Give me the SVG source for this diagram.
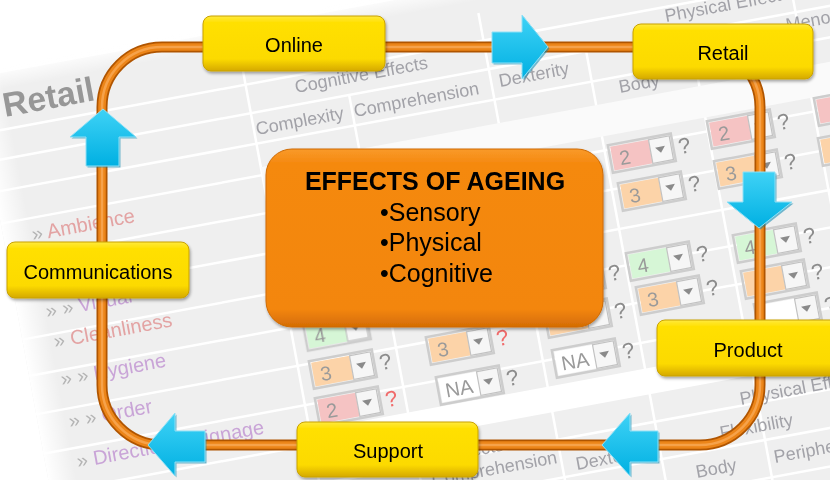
<svg xmlns="http://www.w3.org/2000/svg" width="830" height="480" viewBox="0 0 830 480">
  <defs>
    <style>
      .node rect { fill: url(#yel); stroke: #C9A200; stroke-width: 1; }
      .node text { font-family: "Liberation Sans", Arial, sans-serif; font-size: 20px; fill: #000; text-anchor: middle; }
      .hd { font-family: "Liberation Sans", Arial, sans-serif; font-size: 18px; fill: #a2a2a8; }
      .lb { font-family: "Liberation Sans", Arial, sans-serif; font-size: 20px; }
      .rd { fill: #E3A3A3; }
      .pu { fill: #C9A4D7; }
      .gt { fill: #b4b4b4; }
      .num { font-family: "Liberation Sans", Arial, sans-serif; font-size: 20px; fill: #9a9a9a; }
      .q { font-family: "Liberation Sans", Arial, sans-serif; font-size: 22px; fill: #8c8c8c; }
      .qr { fill: #F06B6B; }
      .pk { fill: #F5C3C3; }
      .or { fill: #FCD3A8; }
      .gr { fill: #D6F6D6; }
      .wh { fill: #ffffff; }
      .grid { stroke: #ffffff; stroke-width: 2.5; fill: none; }
      .arrow { fill: url(#cyan); stroke: #8FE0F6; stroke-width: 1; }
      .arrow-sh { fill: #0A86AE; opacity: 0.55; }
    </style>
    <linearGradient id="yel" x1="0" y1="0" x2="0" y2="1">
      <stop offset="0" stop-color="#FFEA40"/>
      <stop offset="0.12" stop-color="#FFE000"/>
      <stop offset="0.78" stop-color="#FCDA00"/>
      <stop offset="1" stop-color="#D5A900"/>
    </linearGradient>
    <linearGradient id="org" x1="0" y1="0" x2="0" y2="1">
      <stop offset="0" stop-color="#F99A2A"/>
      <stop offset="0.08" stop-color="#F5890F"/>
      <stop offset="0.9" stop-color="#F3860C"/>
      <stop offset="1" stop-color="#D46C05"/>
    </linearGradient>
    <linearGradient id="cyan" x1="0" y1="0" x2="0" y2="1">
      <stop offset="0" stop-color="#3FD2F6"/>
      <stop offset="1" stop-color="#00B0E2"/>
    </linearGradient>
    <linearGradient id="fadeL" x1="0" y1="0" x2="1" y2="0">
      <stop offset="0" stop-color="#fff" stop-opacity="1"/>
      <stop offset="1" stop-color="#fff" stop-opacity="0"/>
    </linearGradient>
    <linearGradient id="fadeT" x1="0" y1="0" x2="0" y2="1">
      <stop offset="0" stop-color="#fff" stop-opacity="1"/>
      <stop offset="1" stop-color="#fff" stop-opacity="0"/>
    </linearGradient>
    <filter id="sh" x="-10%" y="-15%" width="125%" height="145%">
      <feDropShadow dx="1" dy="2" stdDeviation="1.4" flood-color="#000" flood-opacity="0.35"/>
    </filter>
    <filter id="soft" x="-5%" y="-5%" width="110%" height="110%">
      <feGaussianBlur stdDeviation="0.45"/>
    </filter>
    <!-- drop-down cell: frame, button and caret (number area added per cell) -->
    <g id="dd">
      <rect x="-22" y="-14" width="64" height="28" fill="none" stroke="#cdcdcd" stroke-width="2.5"/>
      <rect x="19" y="-12" width="21" height="24" fill="#f6f6f6" stroke="#c2c2c2" stroke-width="1.2"/>
      <path d="M24,-3 L34,-3 L29,3 Z" fill="#8a8a8a"/>
    </g>
  </defs>

  <rect width="830" height="480" fill="#ffffff"/>

  <!-- tilted spreadsheet backdrop -->
  <g id="sheet" filter="url(#soft)">
    <g transform="rotate(-10.5)">
      <rect x="-40" y="72" width="1200" height="720" fill="#efefef"/>
      <path class="grid" d="M-40,128 H1160 M-40,157 H1160 M-40,188 H1160 M-40,220 H1160 M-40,258 H1160 M-40,298 H1160 M-40,338 H1160 M-40,375 H1160 M-40,414 H1160 M-40,454 H1160 M-40,494 H1160 M-40,534 H1160 M-40,572 H1160 M-40,610 H1160"/>
      <path class="grid" d="M226,100 V800 M468,100 V800 M780,100 V800 M326,157 V800 M567,157 V800 M672,157 V800"/>
      <rect x="226" y="212" width="940" height="32" fill="#fafafa"/>
      <rect x="226" y="480" width="940" height="26" fill="#ffffff"/>
      <rect x="-40" y="72" width="28" height="720" fill="url(#fadeL)"/>
      <rect x="-40" y="66" width="1200" height="22" fill="url(#fadeT)"/>
    </g>

    <!-- headers -->
    <text transform="translate(5,117) rotate(-10.5)" font-family="Liberation Sans, Arial, sans-serif" font-weight="bold" font-size="34" fill="#979797">Retail</text>
    <text class="hd" transform="translate(296,93) rotate(-10.5)">Cognitive Effects</text>
    <text class="hd" transform="translate(257,135) rotate(-10.5)">Complexity</text>
    <text class="hd" transform="translate(355,117) rotate(-10.5)">Comprehension</text>
    <text class="hd" transform="translate(500,87) rotate(-10.5)">Dexterity</text>
    <text class="hd" transform="translate(620,93) rotate(-10.5)">Body</text>
    <text class="hd" transform="translate(666,22) rotate(-10.5)">Physical Effects</text>
    <text class="hd" transform="translate(787,31) rotate(-10.5)">Meno</text>

    <text class="hd" transform="translate(372,475) rotate(-10.5)">Cognitive Effects</text>
    <text class="hd" transform="translate(433,486) rotate(-10.5)">Comprehension</text>
    <text class="hd" transform="translate(577,470) rotate(-10.5)">Dexterity</text>
    <text class="hd" transform="translate(697,478) rotate(-10.5)">Body</text>
    <text class="hd" transform="translate(741,405) rotate(-10.5)">Physical Effects</text>
    <text class="hd" transform="translate(721,439) rotate(-10.5)">Flexibility</text>
    <text class="hd" transform="translate(775,463) rotate(-10.5)">Peripheral</text>

    <!-- row labels -->
    <text class="lb" transform="translate(33,241) rotate(-10.5)"><tspan class="gt">» </tspan><tspan class="rd">Ambience</tspan></text>
    <text class="lb" transform="translate(47,318) rotate(-10.5)"><tspan class="gt">» » </tspan><tspan class="pu">Visual</tspan></text>
    <text class="lb" transform="translate(55,348) rotate(-10.5)"><tspan class="gt">» </tspan><tspan class="rd">Cleanliness</tspan></text>
    <text class="lb" transform="translate(62,386) rotate(-10.5)"><tspan class="gt">» » </tspan><tspan class="pu">Hygiene</tspan></text>
    <text class="lb" transform="translate(70,428) rotate(-10.5)"><tspan class="gt">» » </tspan><tspan class="pu">Order</tspan></text>
    <text class="lb" transform="translate(78,468) rotate(-10.5)"><tspan class="gt">» </tspan><tspan class="pu">Directional Signage</tspan></text>

    <!-- rating cells -->
    <g transform="translate(632,155) rotate(-10.5)"><rect class="pk" x="-20" y="-12" width="39" height="24"/><use href="#dd"/><text class="num" x="-13" y="8">2</text><text class="q" x="47" y="8">?</text></g>
    <g transform="translate(731,131) rotate(-10.5)"><rect class="pk" x="-20" y="-12" width="39" height="24"/><use href="#dd"/><text class="num" x="-13" y="8">2</text><text class="q" x="47" y="8">?</text></g>
    <g transform="translate(642,193) rotate(-10.5)"><rect class="or" x="-20" y="-12" width="39" height="24"/><use href="#dd"/><text class="num" x="-13" y="8">3</text><text class="q" x="47" y="8">?</text></g>
    <g transform="translate(738,171) rotate(-10.5)"><rect class="or" x="-20" y="-12" width="39" height="24"/><use href="#dd"/><text class="num" x="-13" y="8">3</text><text class="q" x="47" y="8">?</text></g>
    <g transform="translate(838,108) rotate(-10.5)"><rect class="pk" x="-20" y="-12" width="39" height="24"/><use href="#dd"/></g>
    <g transform="translate(842,148) rotate(-10.5)"><rect class="or" x="-20" y="-12" width="39" height="24"/><use href="#dd"/></g>
    <g transform="translate(650,263) rotate(-10.5)"><rect class="gr" x="-20" y="-12" width="39" height="24"/><use href="#dd"/><text class="num" x="-13" y="8">4</text><text class="q" x="47" y="8">?</text></g>
    <g transform="translate(757,245) rotate(-10.5)"><rect class="gr" x="-20" y="-12" width="39" height="24"/><use href="#dd"/><text class="num" x="-13" y="8">4</text><text class="q" x="47" y="8">?</text></g>
    <g transform="translate(660,297) rotate(-10.5)"><rect class="or" x="-20" y="-12" width="39" height="24"/><use href="#dd"/><text class="num" x="-13" y="8">3</text><text class="q" x="47" y="8">?</text></g>
    <g transform="translate(765,281) rotate(-10.5)"><rect class="or" x="-20" y="-12" width="39" height="24"/><use href="#dd"/><text class="q" x="47" y="8">?</text></g>
    <g transform="translate(778,314) rotate(-10.5)"><rect class="wh" x="-20" y="-12" width="39" height="24"/><use href="#dd"/><text class="q" x="47" y="8">?</text></g>
    <g transform="translate(562,282) rotate(-10.5)"><rect class="or" x="-20" y="-12" width="39" height="24"/><use href="#dd"/><text class="q" x="47" y="8">?</text></g>
    <g transform="translate(568,320) rotate(-10.5)"><rect class="or" x="-20" y="-12" width="39" height="24"/><use href="#dd"/><text class="q" x="47" y="8">?</text></g>
    <g transform="translate(327,333) rotate(-10.5)"><rect class="gr" x="-20" y="-12" width="39" height="24"/><use href="#dd"/><text class="num" x="-13" y="8">4</text></g>
    <g transform="translate(333,371) rotate(-10.5)"><rect class="or" x="-20" y="-12" width="39" height="24"/><use href="#dd"/><text class="num" x="-13" y="8">3</text><text class="q" x="47" y="8">?</text></g>
    <g transform="translate(339,408) rotate(-10.5)"><rect class="pk" x="-20" y="-12" width="39" height="24"/><use href="#dd"/><text class="num" x="-13" y="8">2</text><text class="q qr" x="47" y="8">?</text></g>
    <g transform="translate(450,347) rotate(-10.5)"><rect class="or" x="-20" y="-12" width="39" height="24"/><use href="#dd"/><text class="num" x="-13" y="8">3</text><text class="q qr" x="47" y="8">?</text></g>
    <g transform="translate(460,387) rotate(-10.5)"><rect class="wh" x="-20" y="-12" width="39" height="24"/><use href="#dd"/><text class="num" x="-15" y="8">NA</text><text class="q" x="47" y="8">?</text></g>
    <g transform="translate(576,360) rotate(-10.5)"><rect class="wh" x="-20" y="-12" width="39" height="24"/><use href="#dd"/><text class="num" x="-15" y="8">NA</text><text class="q" x="47" y="8">?</text></g>
  </g>

  <!-- connectors: loop tube and flow arrows -->
  <g id="connectors">
    <g fill="none">
      <path d="M162,47 H700 A60,60 0 0 1 760,107 V385 A60,60 0 0 1 700,445 H162 A60,60 0 0 1 102,385 V107 A60,60 0 0 1 162,47 Z" stroke="#B05500" stroke-width="11"/>
      <path d="M162,47 H700 A60,60 0 0 1 760,107 V385 A60,60 0 0 1 700,445 H162 A60,60 0 0 1 102,385 V107 A60,60 0 0 1 162,47 Z" stroke="#EC8519" stroke-width="7.5"/>
      <path d="M162,47 H700 A60,60 0 0 1 760,107 V385 A60,60 0 0 1 700,445 H162 A60,60 0 0 1 102,385 V107 A60,60 0 0 1 162,47 Z" stroke="#F6A24A" stroke-width="2.5"/>
    </g>
    <g id="arrow-up">
      <polygon class="arrow-sh" transform="translate(1.5,1.5)" points="103,109 136,137 119,137 119,166 86,166 86,137 70,137"/>
      <polygon class="arrow" points="103,109 136,137 119,137 119,166 86,166 86,137 70,137"/>
    </g>
    <g id="arrow-right">
      <polygon class="arrow-sh" transform="translate(1.5,1.5)" points="548,47 522,79 522,63 492,63 492,32 522,32 522,15"/>
      <polygon class="arrow" points="548,47 522,79 522,63 492,63 492,32 522,32 522,15"/>
    </g>
    <g id="arrow-down">
      <polygon class="arrow-sh" transform="translate(1.5,1.5)" points="759,228 792,202 775,202 775,172 743,172 743,202 727,202"/>
      <polygon class="arrow" points="759,228 792,202 775,202 775,172 743,172 743,202 727,202"/>
    </g>
    <g id="arrow-left-1">
      <polygon class="arrow-sh" transform="translate(1.5,1.5)" points="602,445 630,413 630,431 658,431 658,462 630,462 630,476"/>
      <polygon class="arrow" points="602,445 630,413 630,431 658,431 658,462 630,462 630,476"/>
    </g>
    <g id="arrow-left-2">
      <polygon class="arrow-sh" transform="translate(1.5,1.5)" points="148,445 175,413 175,431 205,431 205,462 175,462 175,476"/>
      <polygon class="arrow" points="148,445 175,413 175,431 205,431 205,462 175,462 175,476"/>
    </g>
  </g>

  <!-- centre panel -->
  <g id="effects" filter="url(#sh)">
    <rect x="266" y="149" width="337" height="178" rx="26" fill="url(#org)" stroke="#CF6A04" stroke-width="1"/>
    <g font-family="Liberation Sans, Arial, sans-serif" font-size="25" fill="#000">
      <text x="435" y="190" text-anchor="middle" font-weight="bold">EFFECTS OF AGEING</text>
      <text x="380" y="221">•Sensory</text>
      <text x="380" y="251">•Physical</text>
      <text x="380" y="282">•Cognitive</text>
    </g>
  </g>

  <!-- stage boxes -->
  <g id="online" class="node" filter="url(#sh)"><rect x="203" y="16" width="182" height="55" rx="8"/><text x="294" y="52">Online</text></g>
  <g id="retail" class="node" filter="url(#sh)"><rect x="633" y="24" width="180" height="55" rx="8"/><text x="723" y="60">Retail</text></g>
  <g id="product" class="node" filter="url(#sh)"><rect x="657" y="320" width="182" height="56" rx="8"/><text x="748" y="356.5">Product</text></g>
  <g id="support" class="node" filter="url(#sh)"><rect x="297" y="422" width="181" height="55" rx="8"/><text x="388" y="458">Support</text></g>
  <g id="communications" class="node" filter="url(#sh)"><rect x="7" y="242" width="182" height="56" rx="8"/><text x="98" y="278.5">Communications</text></g>
</svg>
